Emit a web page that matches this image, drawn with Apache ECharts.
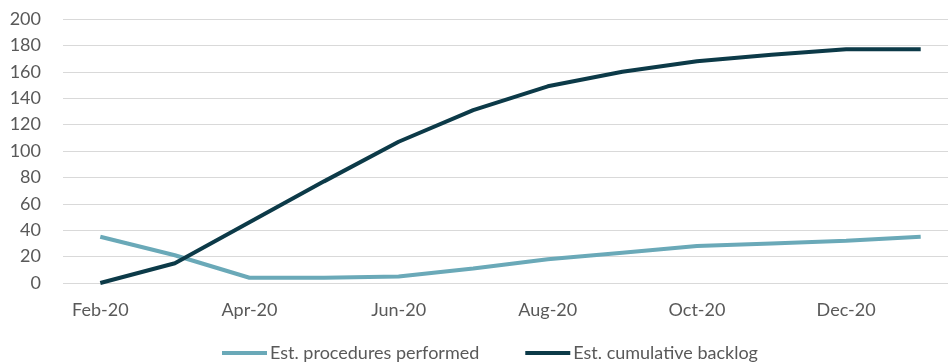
<!DOCTYPE html>
<html>
<head>
<meta charset="utf-8">
<script src="https://cdn.jsdelivr.net/npm/echarts@6/dist/echarts.min.js"></script>
<style>html,body{margin:0;padding:0;background:#fff}#c{width:948px;height:362px}</style>
</head>
<body>
<div id="c"></div>
<script>
var categories = ['Feb-20','Mar-20','Apr-20','May-20','Jun-20','Jul-20','Aug-20','Sep-20','Oct-20','Nov-20','Dec-20','Jan-21'];
var procedures = [35, 21, 4, 4, 5, 11, 18, 23, 28, 30, 32, 35];
var backlog = [0, 15, 46, 77, 107, 131, 149, 160, 168, 173, 177, 177];
var yTicks = {min: 0, max: 200, interval: 20};

var chart = echarts.init(document.getElementById('c'), null, {renderer: 'canvas'});
var font = 'Lato, "Open Sans", sans-serif';
chart.setOption({
  animation: false,
  grid: {left: 63, width: 895, top: 19, bottom: 79, containLabel: false, outerBoundsMode: 'none'},
  legend: {
    top: 339,
    left: 217,
    padding: 5,
    itemWidth: 45,
    itemHeight: 4,
    itemGap: 46,
    icon: 'rect',
    textStyle: {fontFamily: font, fontSize: 18, color: '#595959', padding: [0,0,0,-2]},
    data: ['Est. procedures performed', 'Est. cumulative backlog']
  },
  xAxis: {
    type: 'category',
    data: categories,
    boundaryGap: true,
    axisLine: {show: false},
    axisTick: {show: false},
    axisLabel: {interval: 1, margin: 18, fontFamily: font, fontSize: 18, color: '#595959'}
  },
  yAxis: {
    type: 'value',
    min: yTicks.min, max: yTicks.max, interval: yTicks.interval,
    axisLine: {show: false},
    axisTick: {show: false},
    splitLine: {lineStyle: {color: '#d9d9d9', width: 1}},
    axisLabel: {margin: 22, fontFamily: font, fontSize: 18, color: '#595959'}
  },
  series: [
    {
      name: 'Est. procedures performed', type: 'line', data: procedures,
      symbol: 'none', lineStyle: {width: 4, color: '#6aa9b8'}, itemStyle: {color: '#6aa9b8'}
    },
    {
      name: 'Est. cumulative backlog', type: 'line', data: backlog,
      symbol: 'none', lineStyle: {width: 4, color: '#0c3a48'}, itemStyle: {color: '#0c3a48'}
    }
  ]
});
</script>
</body>
</html>
